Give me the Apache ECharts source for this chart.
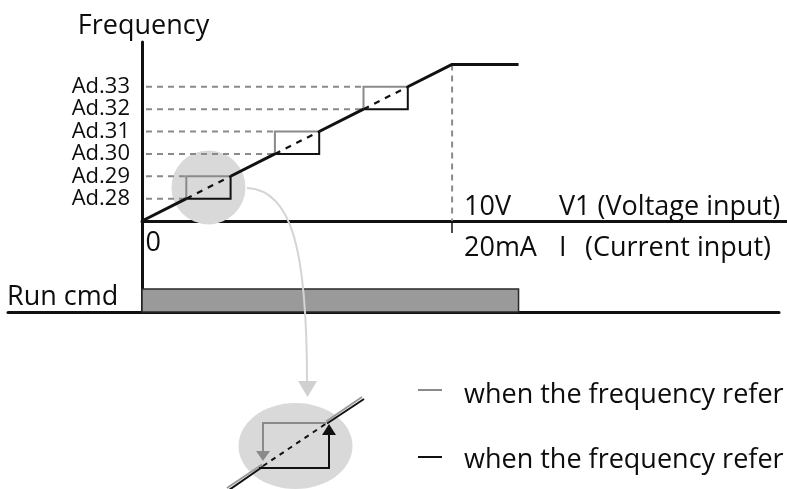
<!DOCTYPE html>
<html><head><meta charset="utf-8">
<script src="https://cdn.jsdelivr.net/npm/echarts@6/dist/echarts.min.js"></script>
<style>html,body{margin:0;padding:0;background:#fff}#c{width:787px;height:489px}</style>
</head><body><div id="c"></div>
<script>
// ---------- data ----------
const levelNames  = ['Ad.28', 'Ad.29', 'Ad.30', 'Ad.31', 'Ad.32', 'Ad.33'];
const levelValues = [1, 2, 3, 4, 5, 6];
// hysteresis bands: [x0, y0, x1, y1]
const bands = [[1, 1, 2, 2], [3, 3, 4, 4], [5, 5, 6, 6]];
// solid frequency ramp segments
const rampSegments = [
  [[0, 0], [1, 1]],
  [[2, 2], [3, 3]],
  [[4, 4], [5, 5]],
  [[6, 6], [7, 7], [8.5, 7]]
];
const maxInput = 7, maxFreq = 7;
const runCmd = [0, 8.5];
const originLabel = '0';
const inputLabels = { voltage: '10V', voltName: 'V1 (Voltage input)', current: '20mA', curSym: 'I', curName: '(Current input)' };
const legendTexts = ['when the frequency refer', 'when the frequency refer'];

// ---------- layout ----------
const FONT = '"Open Sans", "Noto Sans", sans-serif';
const TXT = '#0d0d0d';
const GRAY = '#8a8a8a';
const PXU = 44.3;           // px per x unit
const top1 = 42, axisY = 221, bot1 = 289, yUnit = 22.375;

const chart = echarts.init(document.getElementById('c'), null, { renderer: 'canvas' });

const rampSeries = rampSegments.map(seg => ({
  type: 'line', xAxisIndex: 0, yAxisIndex: 0, data: seg, showSymbol: false, silent: true,
  lineStyle: { color: '#111', width: 3 }, z: 6, animation: false
}));

const option = {
  animation: false,
  grid: [
    { left: 142, right: 0, top: top1, bottom: 489 - bot1 },
    { left: 8, right: 8, top: bot1, bottom: 489 - 312 }
  ],
  xAxis: [
    { type: 'value', gridIndex: 0, min: 0, max: 645 / PXU, splitLine: { show: false },
      axisLine: { lineStyle: { color: '#111', width: 3 } },
      axisTick: { show: true, customValues: [maxInput], length: 12, lineStyle: { color: '#111', width: 1.5 } },
      axisLabel: { show: false } },
    { type: 'value', gridIndex: 1, min: -134 / PXU, max: (779 - 142) / PXU, splitLine: { show: false },
      axisLine: { lineStyle: { color: '#111', width: 3 } }, axisTick: { show: false }, axisLabel: { show: false } }
  ],
  yAxis: [
    { type: 'value', gridIndex: 0, min: -(bot1 - axisY) / yUnit, max: (axisY - top1) / yUnit, splitLine: { show: false },
      axisLine: { lineStyle: { color: '#111', width: 3 } }, axisTick: { show: false },
      axisLabel: { customValues: levelValues, formatter: v => levelNames[levelValues.indexOf(v)],
        fontSize: 22, fontFamily: FONT, color: TXT, margin: 12 } },
    { type: 'value', gridIndex: 1, min: 0, max: 1, splitLine: { show: false },
      axisLine: { lineStyle: { color: '#111', width: 3 } }, axisTick: { show: false }, axisLabel: { show: false } }
  ],
  series: [
    { type: 'scatter', xAxisIndex: 0, yAxisIndex: 0, silent: true, z: 1,
      data: [[(bands[0][0] + bands[0][2]) / 2, (bands[0][1] + bands[0][3]) / 2]],
      symbolSize: 74, itemStyle: { color: '#d9d9d9', opacity: 1 } },
    { type: 'custom', xAxisIndex: 0, yAxisIndex: 0, silent: true, z: 4, data: bands,
      encode: { x: [0, 2], y: [1, 3] },
      renderItem: (params, api) => {
        const x0 = api.value(0), y0 = api.value(1), x1 = api.value(2), y1 = api.value(3);
        const p00 = api.coord([x0, y0]), p01 = api.coord([x0, y1]), p11 = api.coord([x1, y1]), p10 = api.coord([x1, y0]);
        const a0 = api.coord([0, y0]), a1 = api.coord([0, y1]);
        return { type: 'group', children: [
          { type: 'line', shape: { x1: a0[0] + 4, y1: a0[1], x2: p00[0], y2: p00[1] }, style: { stroke: GRAY, lineWidth: 2, lineDash: [6, 5] } },
          { type: 'line', shape: { x1: a1[0] + 4, y1: a1[1], x2: p01[0], y2: p01[1] }, style: { stroke: GRAY, lineWidth: 2, lineDash: [6, 5] } },
          { type: 'polyline', shape: { points: [p00, p01, p11] }, style: { stroke: GRAY, lineWidth: 2, fill: null } },
          { type: 'polyline', shape: { points: [p11, p10, p00] }, style: { stroke: '#111', lineWidth: 2, fill: null } },
          { type: 'line', shape: { x1: p00[0], y1: p00[1], x2: p11[0], y2: p11[1] }, style: { stroke: '#111', lineWidth: 2.2, lineDash: [6, 6] } }
        ] };
      } },
    { type: 'line', xAxisIndex: 0, yAxisIndex: 0, silent: true, z: 3, showSymbol: false,
      data: [[maxInput, maxFreq], [maxInput, 0]], lineStyle: { color: GRAY, width: 2, type: [6, 5] } },
    ...rampSeries,
    { type: 'custom', xAxisIndex: 1, yAxisIndex: 1, silent: true, z: 1, data: [[runCmd[0], runCmd[1]]],
      encode: { x: [0, 1] },
      renderItem: (params, api) => {
        const a = api.coord([api.value(0), 1]), b = api.coord([api.value(1), 0]);
        return { type: 'rect', shape: { x: a[0], y: a[1], width: b[0] - a[0], height: b[1] - a[1] },
          style: { fill: '#9a9a9a', stroke: '#2a2a2a', lineWidth: 1.5 } };
      } }
  ],
  graphic: [
    { type: 'text', z: 100, style: { text: 'Frequency', x: 143.5, y: 26, align: 'center', verticalAlign: 'middle', font: '27px ' + FONT, fill: TXT } },
    { type: 'text', z: 100, style: { text: originLabel, x: 145.5, y: 243, verticalAlign: 'middle', font: '27px ' + FONT, fill: TXT } },
    { type: 'text', z: 100, style: { text: inputLabels.voltage, x: 464, y: 207, verticalAlign: 'middle', font: '27px ' + FONT, fill: TXT } },
    { type: 'text', z: 100, style: { text: inputLabels.voltName, x: 559, y: 207, verticalAlign: 'middle', font: '27px ' + FONT, fill: TXT } },
    { type: 'text', z: 100, style: { text: inputLabels.current, x: 464, y: 248, verticalAlign: 'middle', font: '27px ' + FONT, fill: TXT } },
    { type: 'text', z: 100, style: { text: inputLabels.curSym, x: 559, y: 248, verticalAlign: 'middle', font: '27px ' + FONT, fill: TXT } },
    { type: 'text', z: 100, style: { text: inputLabels.curName, x: 585, y: 248, verticalAlign: 'middle', font: '27px ' + FONT, fill: TXT } },
    { type: 'text', z: 100, style: { text: 'Run cmd', x: 7, y: 297, verticalAlign: 'middle', font: '27px ' + FONT, fill: TXT } },
    // magnifier connector
    { type: 'bezierCurve', z: 50, shape: { x1: 247, y1: 188, cpx1: 292, cpy1: 190, cpx2: 307, cpy2: 250, x2: 307, y2: 382 }, style: { stroke: '#d4d4d4', lineWidth: 2, fill: null } },
    { type: 'polygon', z: 50, shape: { points: [[298, 381], [317, 381], [307.5, 397]] }, style: { fill: '#d0d0d0' } },
    // inset
    { type: 'ellipse', z: 40, shape: { cx: 295.5, cy: 446, rx: 57, ry: 43 }, style: { fill: '#d9d9d9' } },
    { type: 'line', z: 41, shape: { x1: 227, y1: 488, x2: 262, y2: 464.5 }, style: { stroke: '#9a9a9a', lineWidth: 2 } },
    { type: 'line', z: 41, shape: { x1: 326, y1: 421.5, x2: 362, y2: 397 }, style: { stroke: '#9a9a9a', lineWidth: 2 } },
    { type: 'line', z: 42, shape: { x1: 229, y1: 490, x2: 263, y2: 466.5 }, style: { stroke: '#111', lineWidth: 2 } },
    { type: 'line', z: 42, shape: { x1: 327, y1: 423.5, x2: 364, y2: 399 }, style: { stroke: '#111', lineWidth: 2 } },
    { type: 'line', z: 42, shape: { x1: 263, y1: 466, x2: 327, y2: 423 }, style: { stroke: '#111', lineWidth: 2, lineDash: [5, 5] } },
    { type: 'polyline', z: 42, shape: { points: [[326, 423], [263, 423], [263, 452]] }, style: { stroke: GRAY, lineWidth: 2, fill: null } },
    { type: 'polygon', z: 42, shape: { points: [[256, 451], [270, 451], [263, 461]] }, style: { fill: GRAY } },
    { type: 'polyline', z: 42, shape: { points: [[259, 468], [329, 468], [329, 434]] }, style: { stroke: '#111', lineWidth: 2, fill: null } },
    { type: 'polygon', z: 42, shape: { points: [[322, 435], [336, 435], [329, 424]] }, style: { fill: '#111' } },
    // legend
    { type: 'line', z: 42, shape: { x1: 418, y1: 390, x2: 442, y2: 390 }, style: { stroke: GRAY, lineWidth: 2 } },
    { type: 'line', z: 42, shape: { x1: 418, y1: 457, x2: 442, y2: 457 }, style: { stroke: '#111', lineWidth: 2 } },
    { type: 'text', z: 100, style: { text: legendTexts[0], x: 464, y: 395, verticalAlign: 'middle', font: '27px ' + FONT, fill: TXT } },
    { type: 'text', z: 100, style: { text: legendTexts[1], x: 464, y: 460, verticalAlign: 'middle', font: '27px ' + FONT, fill: TXT } }
  ]
};
chart.setOption(option);
</script></body></html>
